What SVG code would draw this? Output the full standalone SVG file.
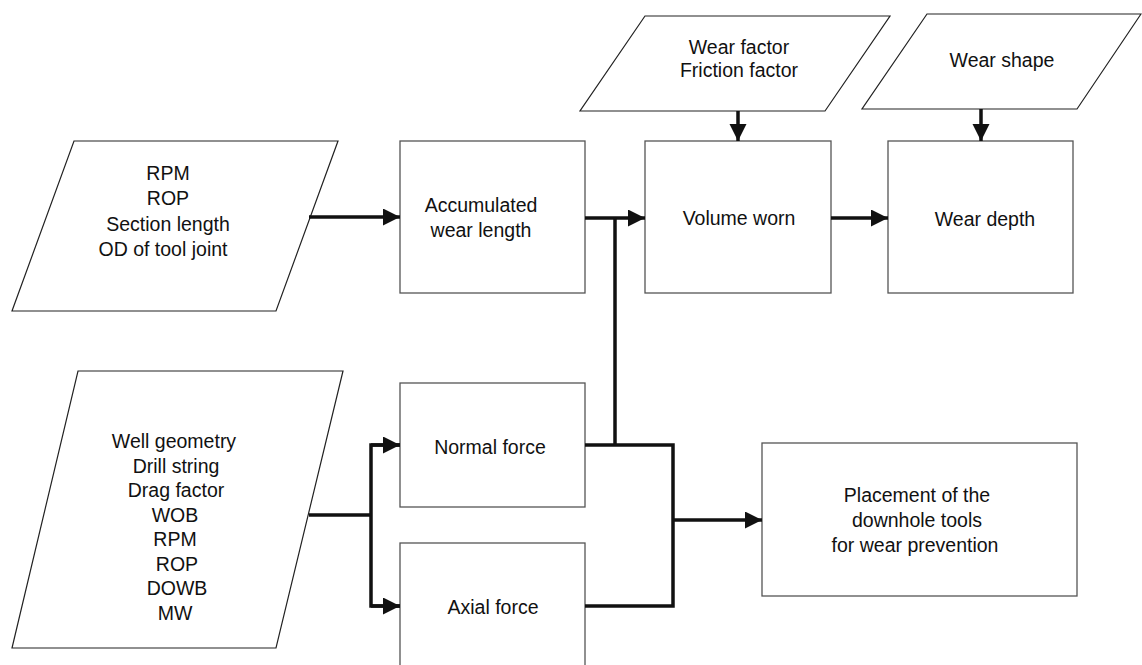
<svg xmlns="http://www.w3.org/2000/svg" width="1142" height="665" viewBox="0 0 1142 665">
<style>
.box{fill:#fff;stroke:#555;stroke-width:1.3}
.par{fill:#fff;stroke:#222;stroke-width:1.2}
.t{font-family:"Liberation Sans",Arial,sans-serif;font-size:19.5px;fill:#111;text-anchor:middle}
.c{fill:none;stroke:#111;stroke-width:3.5;stroke-linejoin:miter}
</style>
<defs>
<marker id="ah" markerUnits="userSpaceOnUse" markerWidth="18" markerHeight="18" refX="17" refY="8.5" orient="auto">
<path d="M0,0 L17,8.5 L0,17 z" fill="#111"/>
</marker>
</defs>
<rect width="1142" height="665" fill="#fff"/>
<g id="in-top">
<polygon class="par" points="74,141 338,141 276,311 12,311"/>
<text class="t" x="168" y="180">RPM</text>
<text class="t" x="168" y="205">ROP</text>
<text class="t" x="168" y="231">Section length</text>
<text class="t" x="163" y="256">OD of tool joint</text>
</g>
<g id="in-wear">
<polygon class="par" points="645,16 890,16 825,111 580,111"/>
<text class="t" x="739" y="54">Wear factor</text>
<text class="t" x="739" y="77">Friction factor</text>
</g>
<g id="in-shape">
<polygon class="par" points="927,14 1141,14 1077,109 862,109"/>
<text class="t" x="1002" y="67">Wear shape</text>
</g>
<g id="accum">
<rect class="box" x="400" y="141" width="185" height="152"/>
<text class="t" x="481" y="212">Accumulated</text>
<text class="t" x="481" y="237">wear length</text>
</g>
<g id="volume">
<rect class="box" x="645" y="141" width="186" height="152"/>
<text class="t" x="739" y="225">Volume worn</text>
</g>
<g id="depth">
<rect class="box" x="888" y="141" width="185" height="152"/>
<text class="t" x="985" y="226">Wear depth</text>
</g>
<g id="in-bottom">
<polygon class="par" points="78,371 343,371 276,648 12,648"/>
<text class="t" x="174" y="448">Well geometry</text>
<text class="t" x="176" y="472.5">Drill string</text>
<text class="t" x="176" y="497">Drag factor</text>
<text class="t" x="175" y="521.5">WOB</text>
<text class="t" x="175" y="546">RPM</text>
<text class="t" x="177" y="570.5">ROP</text>
<text class="t" x="177" y="595">DOWB</text>
<text class="t" x="175" y="619.5">MW</text>
</g>
<g id="normal">
<rect class="box" x="400" y="383" width="185" height="124"/>
<text class="t" x="490" y="454">Normal force</text>
</g>
<g id="axial">
<rect class="box" x="400" y="543" width="185" height="140"/>
<text class="t" x="493" y="614">Axial force</text>
</g>
<g id="placement">
<rect class="box" x="762" y="443" width="315" height="153"/>
<text class="t" x="917" y="502">Placement of the</text>
<text class="t" x="917" y="527">downhole tools</text>
<text class="t" x="915" y="552">for wear prevention</text>
</g>
<g id="connectors">
<path class="c" d="M309,217 H400" marker-end="url(#ah)"/>
<path class="c" d="M585,218 H645" marker-end="url(#ah)"/>
<path class="c" d="M615,218 V445"/>
<path class="c" d="M831,218 H888" marker-end="url(#ah)"/>
<path class="c" d="M738,111 V141" marker-end="url(#ah)"/>
<path class="c" d="M981,109 V141" marker-end="url(#ah)"/>
<path class="c" d="M309,515 H371"/>
<path class="c" d="M400,445 H371 V606 H400"/>
<path class="c" d="M371,445 H400" marker-end="url(#ah)"/>
<path class="c" d="M371,606 H400" marker-end="url(#ah)"/>
<path class="c" d="M585,445 H673 V606 H585"/>
<path class="c" d="M673,520 H762" marker-end="url(#ah)"/>
</g>
</svg>
